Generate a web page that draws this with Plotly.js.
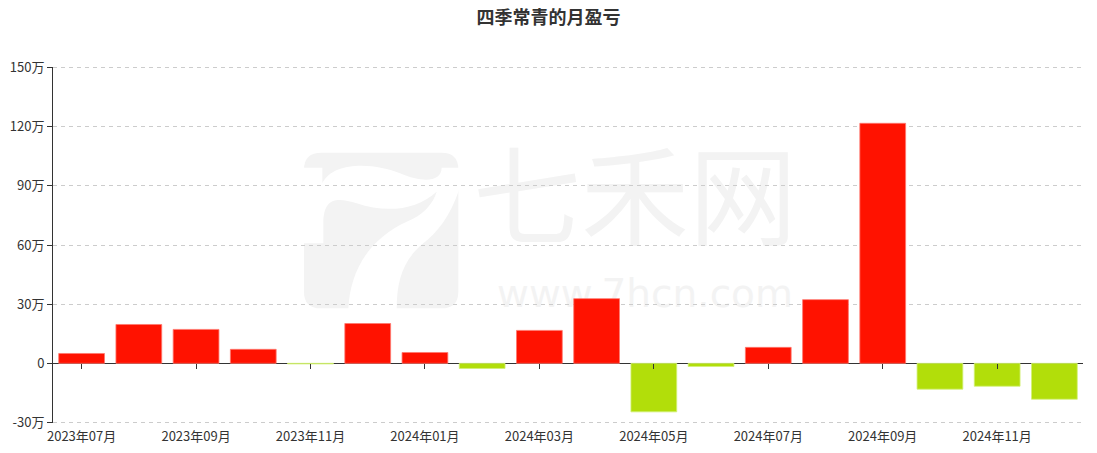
<!DOCTYPE html>
<html>
<head>
<meta charset="utf-8">
<script src="https://cdn.plot.ly/plotly-3.0.1.min.js"></script>
<style>html,body{margin:0;padding:0;background:#fff;}#chart{width:1097px;height:453px;}</style>
</head>
<body>
<div id="chart"></div>
<script>
const months = ["2023年07月","2023年08月","2023年09月","2023年10月","2023年11月","2023年12月","2024年01月","2024年02月","2024年03月","2024年04月","2024年05月","2024年06月","2024年07月","2024年08月","2024年09月","2024年10月","2024年11月","2024年12月"];
const profit = [50000,197000,172000,71000,-3000,202000,55000,-26000,167000,328000,-246000,-16000,81000,323000,1217000,-131000,-116000,-182000];
const yTickVals = [-300000,0,300000,600000,900000,1200000,1500000];
const yTickText = ["-30万","0","30万","60万","90万","120万","150万"];
const xTickVals = ["2023年07月","2023年09月","2023年11月","2024年01月","2024年03月","2024年05月","2024年07月","2024年09月","2024年11月"];
const titleText = "四季常青的月盈亏";
const watermarkCn = "七禾网";
const watermarkUrl = "www.7hcn.com";
const posColor = "#ff1200";
const negColor = "#b2de0a";

const yMin = yTickVals[0], yMax = yTickVals[yTickVals.length - 1];
const pad = 2500;
const zeroPos = (0 - (yMin - pad)) / ((yMax + pad) - (yMin - pad));
const font = "Noto Sans CJK SC, Noto Sans, sans-serif";

// watermark decoration helpers (pixel -> paper)
const PL = 53, PR = 1083, PT = 67, PB = 423;
const px = x => ((x - PL) / (PR - PL)).toFixed(4);
const py = y => ((PB - y) / (PB - PT)).toFixed(4);
const lp = (zx, zy) => px(290 + zx / 3) + "," + py(140 + zy / 3);
function logoPath(cmds) {
  return cmds.map(c => c[0] + " " + c.slice(1).map(p => lp(p[0], p[1])).join(" ")).join(" ") + " Z";
}
const grayRect = logoPath([
  ["M", [95, 38]], ["L", [455, 38]], ["Q", [505, 38], [505, 88]], ["L", [505, 455]],
  ["Q", [505, 505], [455, 505]], ["L", [92, 505]], ["Q", [42, 505], [42, 455]], ["L", [42, 88]],
  ["Q", [42, 38], [95, 38]]
]);
const whiteSeven = logoPath([
  ["M", [40, 83]], ["L", [97, 83]], ["L", [97, 130]],
  ["C", [130, 60], [260, 70], [330, 100]],
  ["C", [400, 130], [455, 125], [455, 83]],
  ["L", [507, 83]], ["L", [507, 150]],
  ["C", [480, 230], [440, 280], [400, 310]],
  ["C", [340, 360], [320, 420], [320, 507]],
  ["L", [175, 507]],
  ["C", [180, 400], [230, 300], [350, 245]],
  ["C", [400, 225], [430, 190], [440, 155]],
  ["C", [380, 210], [290, 220], [200, 190]],
  ["C", [150, 175], [100, 165], [100, 250]],
  ["L", [100, 310]], ["L", [40, 310]]
]);

const barTrace = {
  type: "bar",
  x: months,
  y: profit,
  marker: {
    color: profit.map(v => v >= 0 ? posColor : negColor),
    line: {color: profit.map(v => v >= 0 ? "rgba(255,120,110,0.8)" : "rgba(210,240,120,0.8)"), width: 1}
  },
  hoverinfo: "x+y",
  xaxis: "x",
  yaxis: "y"
};
const tickTrace = {
  type: "scatter",
  mode: "none",
  x: months,
  y: profit,
  xaxis: "x2",
  yaxis: "y",
  hoverinfo: "skip",
  showlegend: false
};

const edgeGrid = [yMin, yMax].map(v => ({
  type: "line", xref: "paper", yref: "y", layer: "below",
  x0: 0, x1: 1, y0: v, y1: v,
  line: {color: "#cccccc", width: 1, dash: "4px,4px"}
}));

const layout = {
  width: 1097,
  height: 453,
  margin: {l: PL, r: 1097 - PR, t: PT, b: 453 - PB},
  paper_bgcolor: "#fff",
  plot_bgcolor: "rgba(0,0,0,0)",
  showlegend: false,
  bargap: 0.2,
  font: {family: font, size: 13, color: "#333"},
  title: {
    text: titleText,
    x: 0.5, xanchor: "center",
    y: 1 - 18/453, yanchor: "middle",
    font: {family: font, size: 18, color: "#333", weight: "bold"}
  },
  xaxis: {
    type: "category",
    categoryorder: "array",
    categoryarray: months,
    tickmode: "array",
    tickvals: xTickVals,
    ticktext: xTickVals,
    ticks: "",
    ticklabelstandoff: 4,
    showline: false,
    showgrid: false,
    zeroline: false,
    tickfont: {family: font, size: 13, color: "#333"},
    anchor: "y",
    fixedrange: true
  },
  xaxis2: {
    type: "category",
    categoryorder: "array",
    categoryarray: months,
    matches: "x",
    overlaying: "x",
    anchor: "free",
    position: zeroPos,
    side: "bottom",
    tickmode: "array",
    tickvals: xTickVals,
    ticks: "outside",
    ticklen: 5,
    tickcolor: "#333",
    showticklabels: false,
    showline: false,
    showgrid: false,
    zeroline: false
  },
  yaxis: {
    range: [yMin - pad, yMax + pad],
    tickmode: "array",
    tickvals: yTickVals,
    ticktext: yTickText,
    ticks: "outside",
    ticklen: 5,
    tickcolor: "#333",
    showline: true,
    linecolor: "#333",
    linewidth: 1,
    showgrid: true,
    gridcolor: "#cccccc",
    griddash: "4px,4px",
    gridwidth: 1,
    zeroline: true,
    zerolinecolor: "#333",
    zerolinewidth: 1,
    tickfont: {family: font, size: 13, color: "#333"},
    fixedrange: true
  },
  shapes: [
    {type: "path", xref: "paper", yref: "paper", layer: "below", path: grayRect,
     fillcolor: "#f3f3f3", line: {width: 0}},
    {type: "path", xref: "paper", yref: "paper", layer: "below", path: whiteSeven,
     fillcolor: "#ffffff", line: {width: 0}},
    {type: "rect", xref: "paper", yref: "paper", layer: "below",
     x0: px(470), x1: px(800), y0: py(262), y1: py(152),
     fillcolor: "rgba(0,0,0,0)", line: {width: 0},
     label: {text: watermarkCn, textposition: "middle center",
             font: {family: font, size: 108, color: "#f3f3f3"}}},
    {type: "rect", xref: "paper", yref: "paper", layer: "below",
     x0: px(490), x1: px(800), y0: py(310), y1: py(272),
     fillcolor: "rgba(0,0,0,0)", line: {width: 0},
     label: {text: watermarkUrl, textposition: "middle center",
             font: {family: "DejaVu Sans", size: 39, color: "#f3f3f3"}}}
  ].concat(edgeGrid)
};

Plotly.newPlot("chart", [barTrace, tickTrace], layout, {displayModeBar: false, staticPlot: true});
</script>
</body>
</html>
